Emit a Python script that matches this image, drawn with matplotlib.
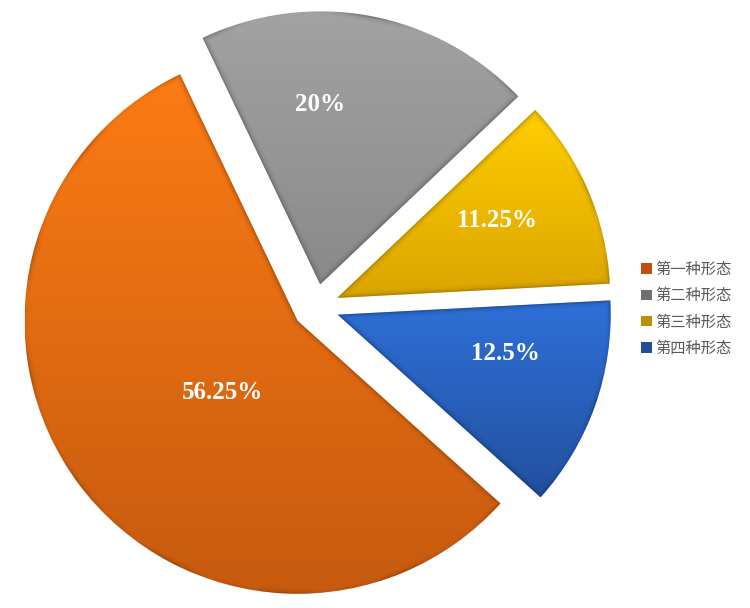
import numpy as np
import matplotlib.pyplot as plt
from matplotlib.colors import LinearSegmentedColormap
from matplotlib.patches import Patch

# data
forms = ["第一种形态", "第二种形态", "第三种形态", "第四种形态"]
shares = [56.25, 20, 11.25, 12.5]
labels = ["56.25%", "20%", "11.25%", "12.5%"]

# gradient colours (top, bottom) and legend swatches
top_colors = ["#FC7C15", "#A2A2A2", "#FFCE00", "#2F70D8"]
bottom_colors = ["#C65A0F", "#8A8A8A", "#DBA500", "#22509F"]
rim_colors = ["#6a2e05", "#3c3c3c", "#6e5200", "#0e2755"]
legend_colors = ["#C0500F", "#6F6F6F", "#BD9000", "#214F9A"]

# label placement: angle (deg) and fraction of radius from each wedge centre
label_angle = [-136, 90, 26, -13]
label_frac = [0.38, 0.66, 0.65, 0.63]

W, H = 750, 608
R = 273
CX, CY = 316, H - 307
GAP = 23

fig = plt.figure(figsize=(W / 100, H / 100), dpi=100)
ax = fig.add_axes([0, 0, 1, 1])

wedges, _ = ax.pie(shares, radius=R, center=(CX, CY), explode=[GAP] * len(shares),
                   startangle=-42, counterclock=False, colors=top_colors,
                   wedgeprops=dict(linewidth=0))

ax.set_xlim(0, W)
ax.set_ylim(0, H)
ax.set_aspect("equal")
ax.axis("off")

for i, w in enumerate(wedges):
    w.set_alpha(0)
    ext = w.get_path().get_extents()
    cmap = LinearSegmentedColormap.from_list(f"g{i}", [bottom_colors[i], top_colors[i]])
    grad = np.linspace(0, 1, 256).reshape(-1, 1)
    im = ax.imshow(grad, cmap=cmap, origin="lower", aspect="auto",
                   extent=(ext.x0, ext.x1, ext.y0, ext.y1), zorder=2,
                   interpolation="bilinear")
    im.set_clip_path(w)
    # soft inner rim
    for lw, a in [(8, 0.05), (5, 0.08), (3, 0.13), (1.4, 0.2)]:
        rim = plt.Polygon(w.get_path().vertices, closed=True, fill=False,
                          edgecolor=rim_colors[i], linewidth=lw, alpha=a, zorder=3)
        ax.add_patch(rim)
        rim.set_clip_path(w)

    # label
    th = np.deg2rad(label_angle[i])
    wx, wy = w.center
    ax.text(wx + label_frac[i] * R * np.cos(th), wy + label_frac[i] * R * np.sin(th),
            labels[i], ha="center", va="center", color="white", fontsize=18,
            fontweight="bold", family="Liberation Serif", zorder=5)

handles = [Patch(facecolor=c, edgecolor="none") for c in legend_colors]
leg = ax.legend(handles, forms, loc="center left", bbox_to_anchor=(0.847, 0.492),
                frameon=False, prop={"family": ["Noto Sans CJK SC", "DejaVu Sans"], "size": 11},
                handlelength=0.7, handleheight=0.7, handletextpad=0.2,
                labelspacing=0.6, borderaxespad=0)
for t in leg.get_texts():
    t.set_color("#595959")

fig.savefig("out.png", dpi=100)
